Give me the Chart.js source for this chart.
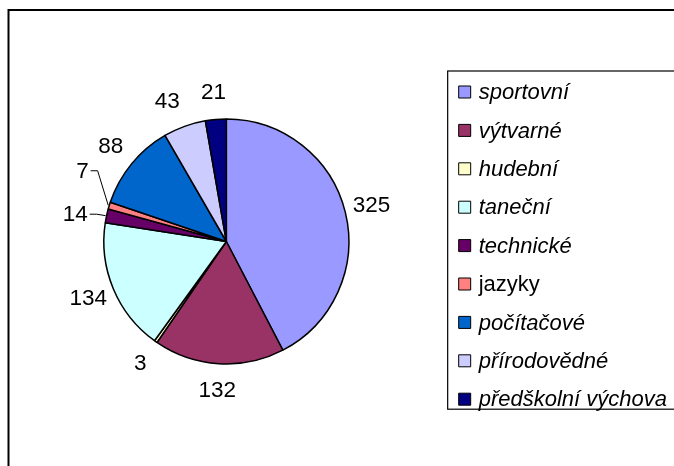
<!DOCTYPE html>
<html>
<head>
<meta charset="utf-8">
<script src="https://cdn.jsdelivr.net/npm/chart.js@4/dist/chart.umd.min.js"></script>
<style>
  html, body { margin: 0; padding: 0; overflow: hidden; background: #fff; }
  canvas { display: block; }
</style>
</head>
<body>
<canvas id="pieChart" width="680" height="466"></canvas>
<script>
const categories = ['sportovní', 'výtvarné', 'hudební', 'taneční', 'technické', 'jazyky', 'počítačové', 'přírodovědné', 'předškolní výchova'];
const counts = [325, 132, 3, 134, 14, 7, 88, 43, 21];
const sliceColors = ['#9999FF', '#993366', '#FFFFCC', '#CCFFFF', '#660066', '#FF8080', '#0066CC', '#CCCCFF', '#000080'];

const FONT = "'Liberation Sans', Arial, sans-serif";
const ctx = document.getElementById('pieChart').getContext('2d');

// frame round the whole chart + box round the legend
const framePlugin = {
    id: 'frame',
    beforeDraw(chart) {
        const c = chart.ctx;
        c.save();
        c.fillStyle = '#fff';
        c.fillRect(0, 0, chart.width, chart.height);
        c.strokeStyle = '#000';
        c.lineWidth = 2;
        c.strokeRect(8.5, 10, 720, 500);
        c.restore();
    },
    afterDraw(chart) {
        const lg = chart.legend;
        const boxes = lg.legendHitBoxes;
        const c = chart.ctx;
        const opts = chart.options.plugins.frame;
        c.save();
        // legend border
        const first = boxes[0], last = boxes[boxes.length - 1];
        const top = first.top + first.height / 2 - 21;
        const bottom = last.top + last.height / 2 + 10;
        c.strokeStyle = '#000';
        c.lineWidth = 1.2;
        c.strokeRect(first.left - 11, top, 400, bottom - top);
        // legend texts (jazyky is upright, the rest italic)
        c.fillStyle = '#000';
        c.textBaseline = 'middle';
        c.textAlign = 'left';
        lg.legendItems.forEach((item, i) => {
            const hb = boxes[i];
            const style = opts.upright.includes(i) ? '' : 'italic ';
            c.font = style + '22px ' + FONT;
            c.fillText(item.text, hb.left + 20, hb.top + hb.height / 2 + 1);
        });
        c.restore();
    }
};

// value labels outside the slices
const valueLabels = {
    id: 'valueLabels',
    afterDatasetsDraw(chart) {
        const c = chart.ctx;
        const opts = chart.options.plugins.valueLabels;
        const meta = chart.getDatasetMeta(0);
        c.save();
        c.font = '22.5px ' + FONT;
        c.fillStyle = '#000';
        c.strokeStyle = '#000';
        c.lineWidth = 1;
        c.textAlign = 'center';
        c.textBaseline = 'middle';
        meta.data.forEach((arc, i) => {
            const p = arc.getProps(['x', 'y', 'startAngle', 'endAngle', 'outerRadius'], true);
            const mid = (p.startAngle + p.endAngle) / 2;
            const d = p.outerRadius + opts.gap;
            let lx = p.x + Math.cos(mid) * d;
            let ly = p.y + Math.sin(mid) * d;
            const text = String(chart.data.datasets[0].data[i]);
            const nudge = opts.nudged[i];
            if (nudge) {
                lx += nudge[0];
                ly += nudge[1];
            }
            const shift = opts.moved[i];
            if (shift) {
                lx += shift[0];
                ly += shift[1];
                const w = c.measureText(text).width;
                const ex = p.x + Math.cos(mid) * (p.outerRadius + 1);
                const ey = p.y + Math.sin(mid) * (p.outerRadius + 1);
                c.beginPath();
                c.moveTo(lx + w / 2 + 2, ly - 1);
                c.lineTo(lx + w / 2 + 9, ly - 1);
                c.lineTo(ex, ey);
                c.stroke();
            }
            c.fillText(text, lx, ly);
        });
        c.restore();
    }
};

const pieChart = new Chart(ctx, {
    type: 'pie',
    data: {
        labels: categories,
        datasets: [{
            data: counts,
            backgroundColor: sliceColors,
            borderColor: '#000',
            borderWidth: 1.5,
            radius: 122.5
        }]
    },
    options: {
        responsive: false,
        animation: false,
        events: [],
        layout: {
            padding: { left: 10.4, right: 0, top: 17, bottom: 0 }
        },
        plugins: {
            tooltip: { enabled: false },
            legend: {
                position: 'right',
                align: 'center',
                title: {
                    display: true,
                    text: '',
                    font: { size: 1 },
                    padding: { top: 7, bottom: 0 }
                },
                labels: {
                    boxWidth: 12,
                    boxHeight: 12,
                    padding: 16.4,
                    color: 'rgba(0,0,0,0)',
                    font: { size: 22, style: 'italic', family: FONT },
                    generateLabels: function (chart) {
                        const items = Chart.overrides.pie.plugins.legend.labels.generateLabels(chart);
                        return items.map(it => Object.assign(it, { lineWidth: 1, strokeStyle: '#000' }));
                    }
                }
            },
            frame: { upright: [5] },
            valueLabels: {
                gap: 27,
                nudged: { 7: [-8, 1] },
                moved: { 4: [-5, 5], 5: [-1, -26] }
            }
        }
    },
    plugins: [framePlugin, valueLabels]
});
</script>
</body>
</html>
